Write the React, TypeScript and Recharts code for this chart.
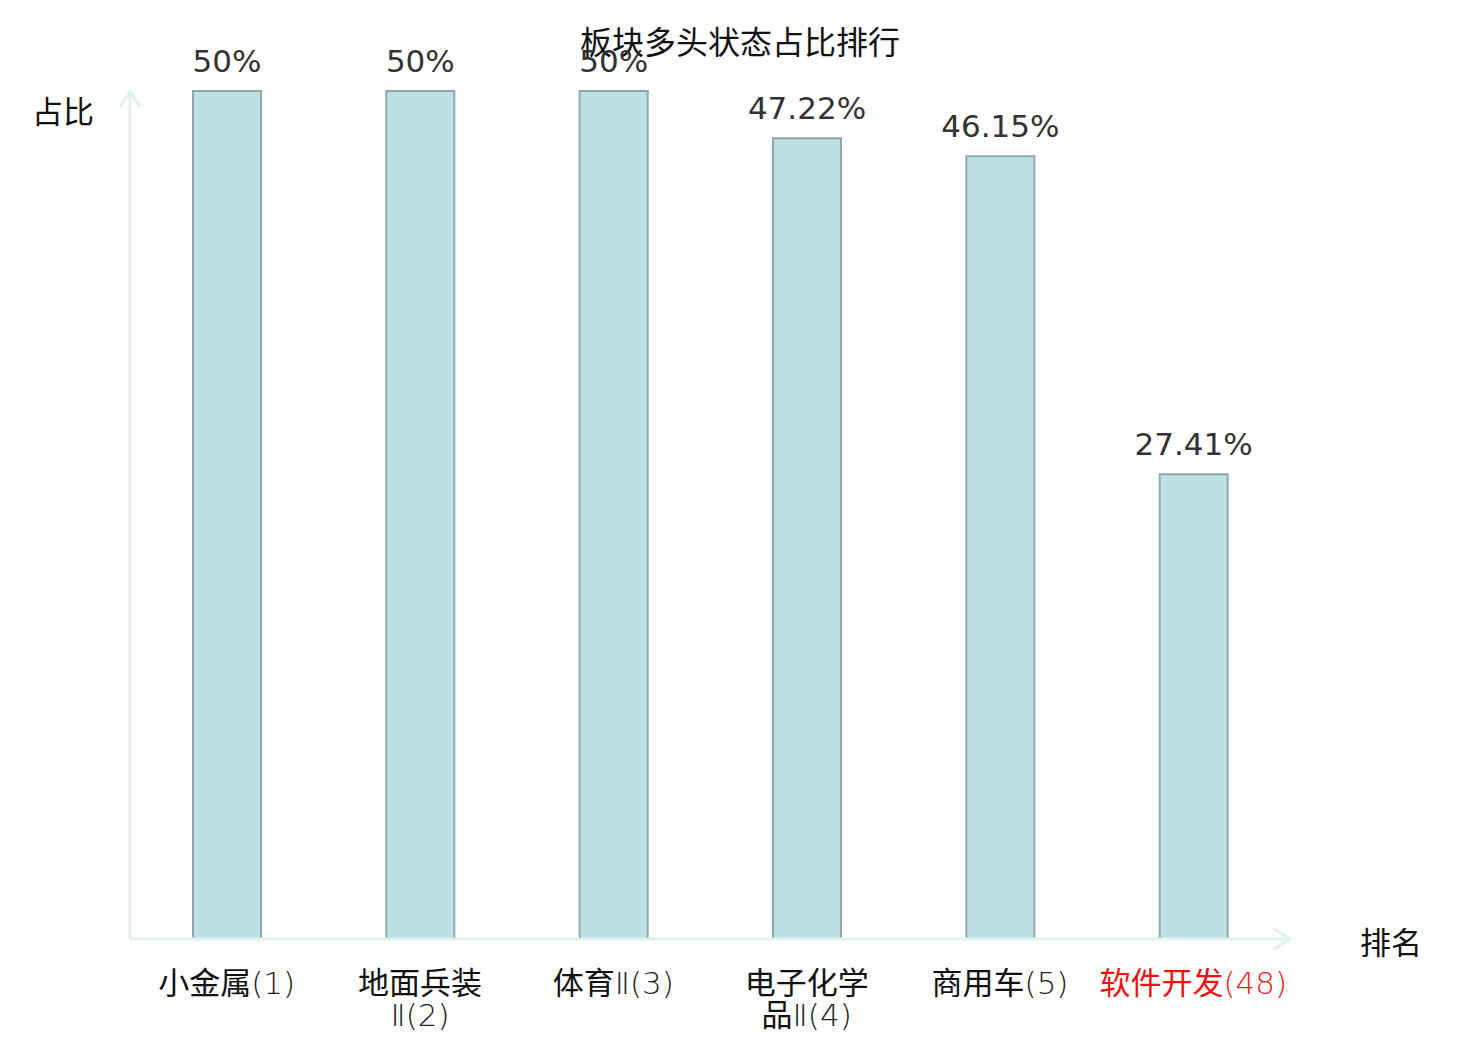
import React from 'react';
import { BarChart, Bar, XAxis, YAxis, LabelList } from 'recharts';

const categories = ['小金属', '地面兵装Ⅱ', '体育Ⅱ', '电子化学品Ⅱ', '商用车', '软件开发'];
const ranks = [1, 2, 3, 4, 5, 48];
const shares = [50, 50, 50, 47.22, 46.15, 27.41];
const highlighted = [false, false, false, false, false, true];
const yDomain = [0, 50];

const data = categories.map((name, i) => ({
  name,
  rank: ranks[i],
  value: shares[i],
  highlight: highlighted[i],
}));

const CJK = '"Noto Sans CJK SC", "DejaVu Sans", sans-serif';
const LATIN = '"DejaVu Sans", "Noto Sans CJK SC", sans-serif';

function splitName(name: string): string[] {
  const chars = Array.from(name);
  if (chars.length > 4) {
    return [chars.slice(0, 4).join(''), chars.slice(4).join('')];
  }
  return [name];
}

const isHan = (c: string) => /[\u4e00-\u9fff]/.test(c);

const Tick = (props: any) => {
  const { x, y, payload, index } = props;
  const item = data[index] || data.find((d) => d.name === payload.value);
  const lines = splitName(payload.value);
  const red = item && item.highlight;
  const mainColor = red ? '#ee1111' : '#111';
  const subColor = red ? '#ee2222' : '#222';
  const suffix = `(${item ? item.rank : ''})`;
  return (
    <g transform={`translate(${x},${y})`}>
      {lines.map((ln, i) => {
        const last = i === lines.length - 1;
        const han = Array.from(ln).filter(isHan).join('');
        const rest = Array.from(ln).filter((c) => !isHan(c)).join('') + (last ? suffix : '');
        return (
          <text key={i} x={0} y={47 + i * 32} textAnchor="middle" fontSize={31}>
            <tspan fill={mainColor} fontFamily={CJK}>{han}</tspan>
            {rest ? (
              <tspan fill={subColor} fontFamily={LATIN} fontWeight={200}>
                {rest}
              </tspan>
            ) : null}
          </text>
        );
      })}
    </g>
  );
};

export default function App() {
  return (
    <div style={{ position: 'absolute', left: 0, top: 0, width: 1480, height: 1040, background: '#fff' }}>
      <svg width={0} height={0} style={{ position: 'absolute' }}>
        <defs>
          <marker
            id="axisArrow"
            markerUnits="userSpaceOnUse"
            viewBox="0 0 20 24"
            refX={18}
            refY={12}
            markerWidth={20}
            markerHeight={24}
            orient="auto-start-reverse"
          >
            <path d="M2,2 L18,12 L2,22" fill="none" stroke="#dff2ef" strokeWidth={3} />
          </marker>
        </defs>
      </svg>
      <div
        style={{
          position: 'absolute',
          left: 0,
          top: 22,
          width: 1480,
          textAlign: 'center',
          fontFamily: CJK,
          fontSize: 32,
          color: '#111',
          lineHeight: '36px',
        }}
      >
        板块多头状态占比排行
      </div>
      <div
        style={{
          position: 'absolute',
          left: 32,
          top: 92,
          fontFamily: CJK,
          fontSize: 31,
          color: '#111',
          lineHeight: '36px',
        }}
      >
        占比
      </div>
      <div
        style={{
          position: 'absolute',
          left: 1360,
          top: 923,
          fontFamily: CJK,
          fontSize: 31,
          color: '#111',
          lineHeight: '36px',
        }}
      >
        排名
      </div>
      <div style={{ position: 'absolute', left: 0, top: 0 }}>
        <BarChart
          width={1480}
          height={1040}
          data={data}
          margin={{ top: 91, right: 190, left: 129, bottom: 41 }}
          barCategoryGap={0}
        >
          <XAxis
            dataKey="name"
            height={60}
            interval={0}
            tickLine={false}
            axisLine={{ stroke: '#dff2ef', strokeWidth: 3, markerEnd: 'url(#axisArrow)' } as any}
            tick={<Tick />}
          />
          <YAxis
            width={1}
            domain={yDomain}
            tick={false}
            tickLine={false}
            axisLine={{ stroke: '#dff2ef', strokeWidth: 3, markerStart: 'url(#axisArrow)' } as any}
          />
          <Bar
            dataKey="value"
            barSize={68}
            fill="#bce0e3"
            stroke="#8fa9aa"
            strokeWidth={2}
            isAnimationActive={false}
          >
            <LabelList
              dataKey="value"
              position="top"
              offset={19}
              formatter={(v: any) => `${v}%`}
              fill="#333"
              fontSize={31}
              fontFamily='"DejaVu Sans", sans-serif'
            />
          </Bar>
        </BarChart>
      </div>
    </div>
  );
}
